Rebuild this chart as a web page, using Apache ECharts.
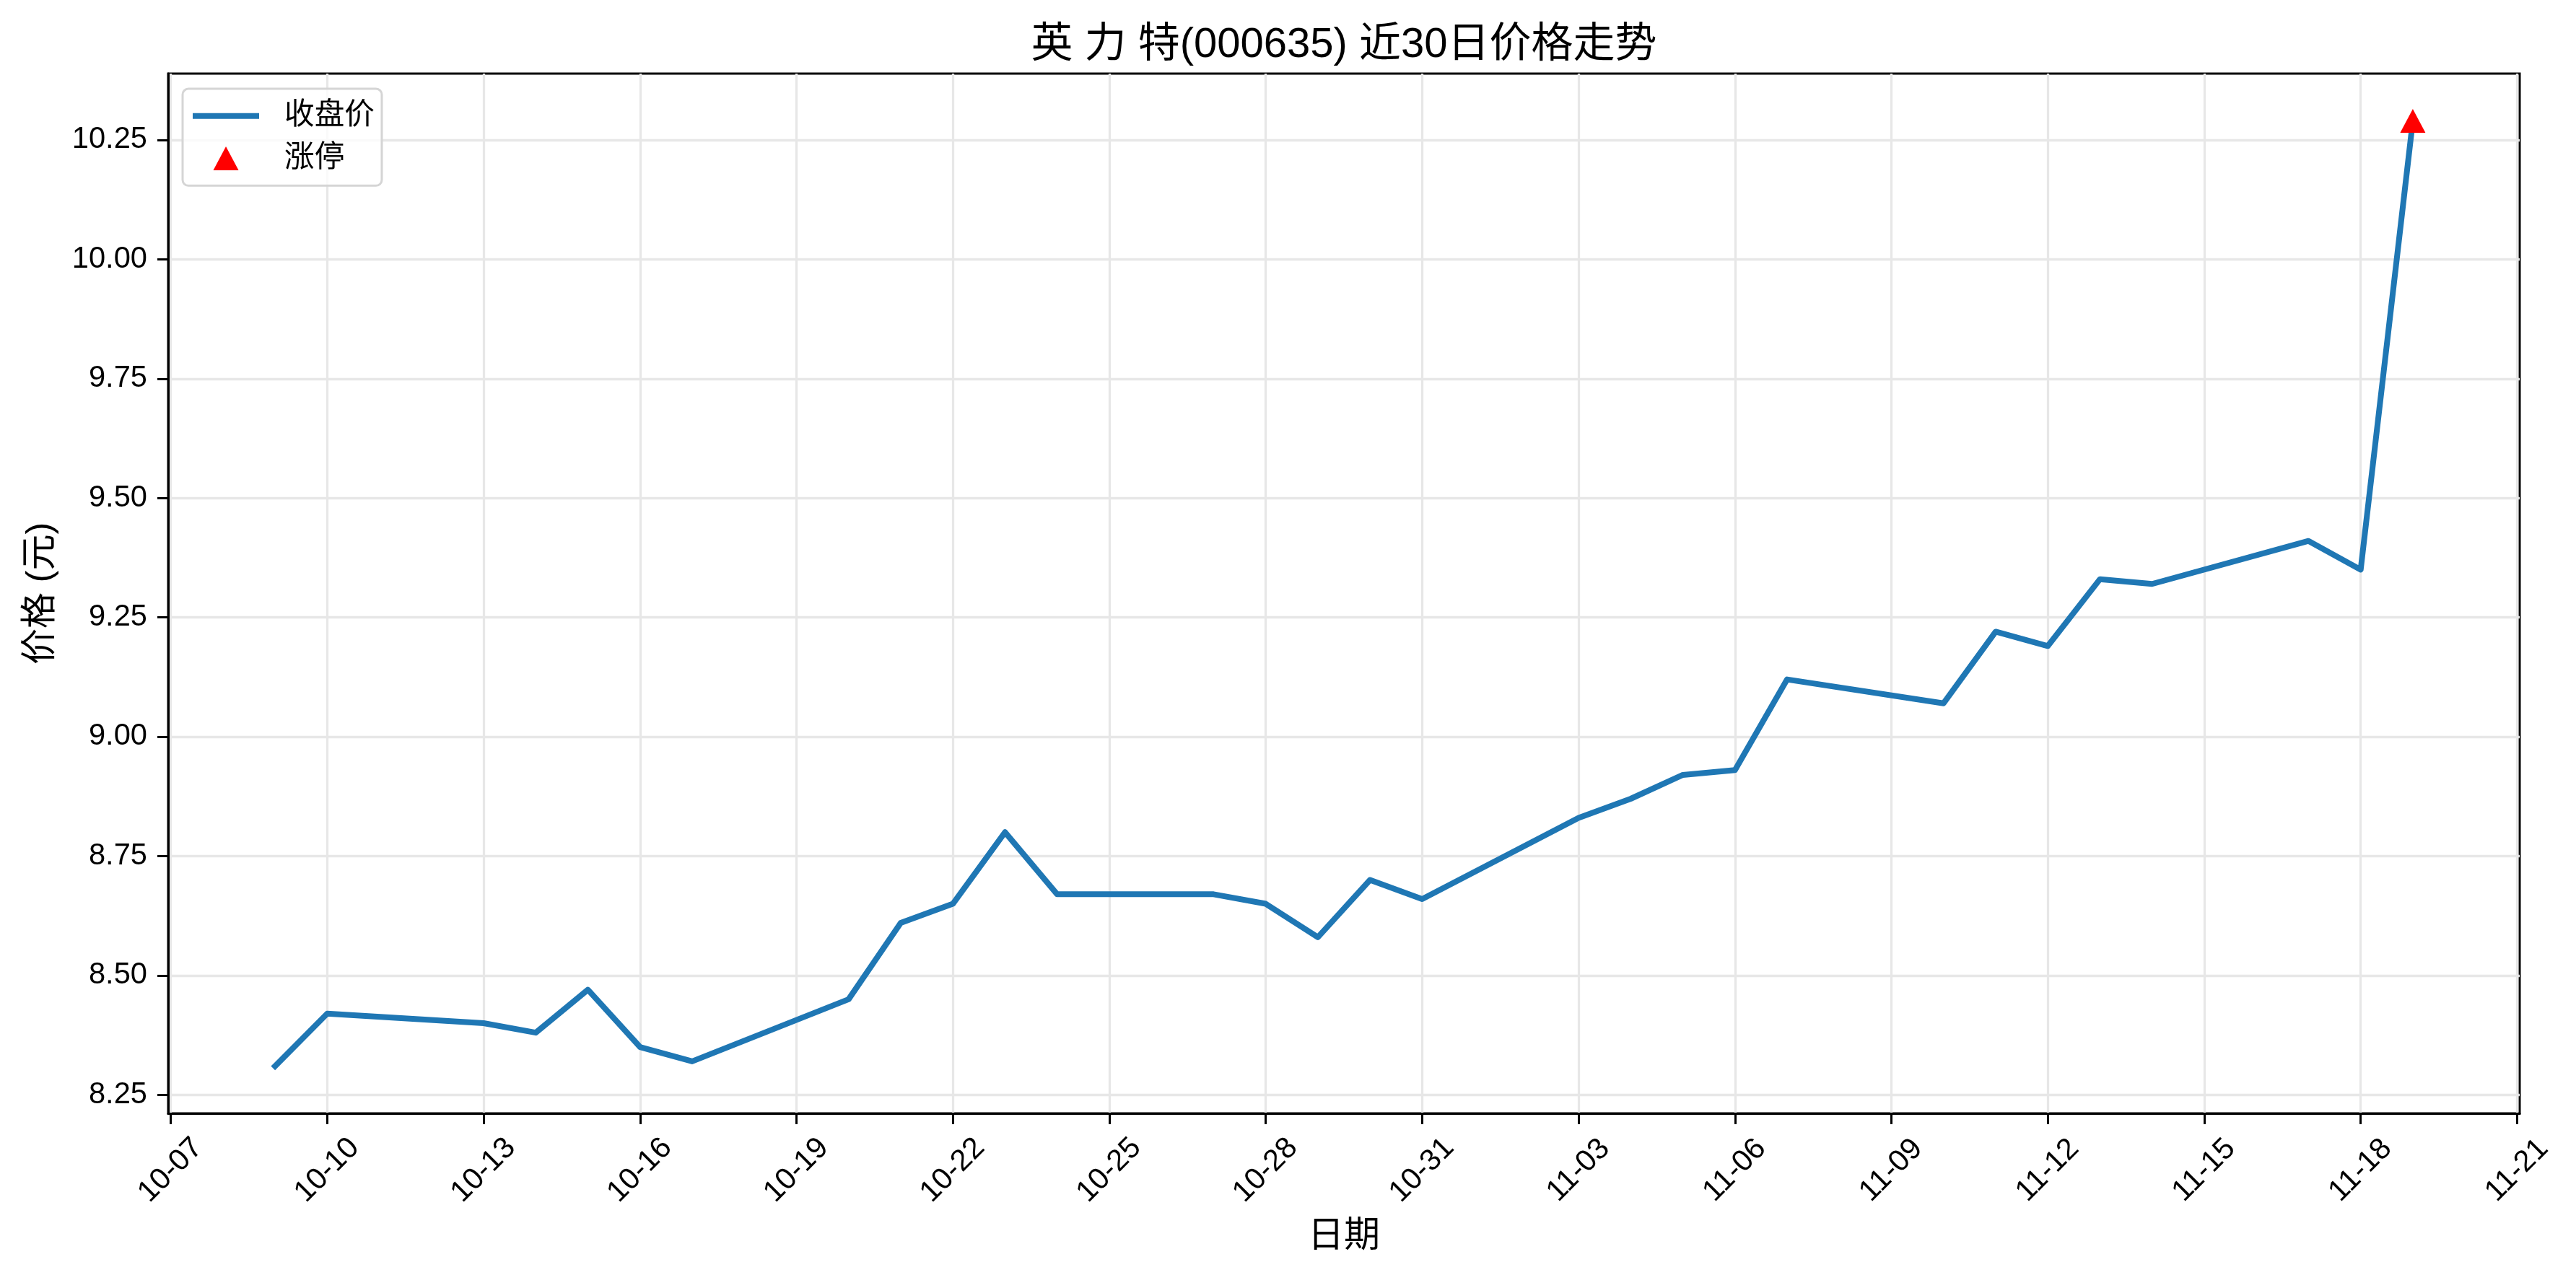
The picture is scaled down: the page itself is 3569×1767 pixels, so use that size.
<!DOCTYPE html>
<html>
<head>
<meta charset="utf-8">
<script src="https://cdn.jsdelivr.net/npm/echarts@6/dist/echarts.min.js"></script>
<style>
html,body{margin:0;padding:0;background:#ffffff;}
#chart{width:3569px;height:1767px;}
</style>
</head>
<body>
<div id="chart"></div>
<script>
// ---------- data ----------
const YEAR = 2025;
const titleText = '英 力 特(000635) 近30日价格走势';
const dates = ['10-09','10-10','10-13','10-14','10-15','10-16','10-17',
  '10-20','10-21','10-22','10-23','10-24',
  '10-27','10-28','10-29','10-30','10-31',
  '11-03','11-04','11-05','11-06','11-07',
  '11-10','11-11','11-12','11-13','11-14',
  '11-17','11-18','11-19'];
const closePrices = [8.31, 8.42, 8.40, 8.38, 8.47, 8.35, 8.32,
  8.45, 8.61, 8.65, 8.80, 8.67,
  8.67, 8.65, 8.58, 8.70, 8.66,
  8.83, 8.87, 8.92, 8.93, 9.12,
  9.07, 9.22, 9.19, 9.33, 9.32,
  9.41, 9.35, 10.29];
const limitUpDates = ['11-19'];
const limitUpPrices = [10.29];
const xTickLabels = ['10-07','10-10','10-13','10-16','10-19','10-22','10-25','10-28',
  '10-31','11-03','11-06','11-09','11-12','11-15','11-18','11-21'];
const yTickLabels = ['8.25','8.50','8.75','9.00','9.25','9.50','9.75','10.00','10.25'];

// ---------- helpers ----------
const BASE = Date.UTC(YEAR, 9, 7);
function dayNum(md) {
  const p = md.split('-').map(Number);
  return (Date.UTC(YEAR, p[0] - 1, p[1]) - BASE) / 86400000;
}
const xTickVals = xTickLabels.map(dayNum);
const yTickVals = yTickLabels.map(Number);

const lineData = dates.map((d, i) => [dayNum(d), closePrices[i]]);
const limitData = limitUpDates.map((d, i) => [dayNum(d), limitUpPrices[i]]);

// matplotlib-like 5% autoscale margins
const xs = dates.map(dayNum);
const xLo = Math.min.apply(null, xs), xHi = Math.max.apply(null, xs);
const xMin = xLo - 0.05 * (xHi - xLo), xMax = xHi + 0.05 * (xHi - xLo);
const ys = closePrices.concat(limitUpPrices);
const yLo = Math.min.apply(null, ys), yHi = Math.max.apply(null, ys);
const yMin = yLo - 0.05 * (yHi - yLo), yMax = yHi + 0.05 * (yHi - yLo);

const FONT = "'Liberation Sans', 'Noto Sans CJK SC', sans-serif";

const chart = echarts.init(document.getElementById('chart'), null, {renderer: 'canvas'});
chart.setOption({
  animation: false,
  backgroundColor: '#ffffff',
  textStyle: {fontFamily: FONT},
  title: {
    text: titleText,
    left: 1862,
    top: 34,
    textAlign: 'center',
    padding: 0,
    textStyle: {fontSize: 58, fontWeight: 'normal', color: '#000000', fontFamily: FONT}
  },
  legend: {
    orient: 'vertical',
    left: 253,
    top: 123,
    itemWidth: 92,
    itemHeight: 33,
    itemGap: 17,
    symbolKeepAspect: true,
    padding: [17, 10, 17, 14],
    backgroundColor: 'rgba(255,255,255,0.8)',
    borderColor: '#d5d5d5',
    borderWidth: 3,
    borderRadius: 8,
    textStyle: {fontSize: 41.67, color: '#000000', fontFamily: FONT, padding: [0, 0, 0, 30], lineHeight: 33},
    data: [
      {name: '收盘价', icon: 'path://M0,0L92,0L92,8L0,8Z', itemStyle: {color: '#1f77b4', opacity: 1}},
      {name: '涨停', icon: 'path://M17,0L34,32L0,32Z', itemStyle: {color: '#ff0000', opacity: 1}}
    ]
  },
  grid: {
    left: 233, right: 78, top: 102, bottom: 224,
    show: true,
    borderColor: '#000000',
    borderWidth: 3,
    backgroundColor: 'transparent'
  },
  xAxis: {
    type: 'value',
    min: xMin,
    max: xMax,
    name: '日期',
    nameLocation: 'middle',
    nameGap: 146,
    nameTextStyle: {fontSize: 50, color: '#000000', fontFamily: FONT},
    axisLine: {show: true, onZero: false, lineStyle: {color: '#000000', width: 3}},
    axisTick: {show: true, inside: false, length: 15, customValues: xTickVals, lineStyle: {color: '#000000', width: 3}},
    axisLabel: {
      customValues: xTickVals,
      formatter: function (v) {
        let best = 0;
        for (let i = 0; i < xTickVals.length; i++) {
          if (Math.abs(xTickVals[i] - v) < Math.abs(xTickVals[best] - v)) best = i;
        }
        return xTickLabels[best];
      },
      rotate: 45,
      align: 'center',
      verticalAlign: 'middle',
      margin: 79,
      fontSize: 41.67,
      color: '#000000',
      fontFamily: FONT
    },
    splitLine: {show: true, lineStyle: {color: '#e7e7e7', width: 3.3}}
  },
  yAxis: {
    type: 'value',
    min: yMin,
    max: yMax,
    name: '价格 (元)',
    nameLocation: 'middle',
    nameGap: 151,
    nameRotate: 90,
    nameTextStyle: {fontSize: 50, color: '#000000', fontFamily: FONT},
    axisLine: {show: true, onZero: false, lineStyle: {color: '#000000', width: 3}},
    axisTick: {show: true, inside: false, length: 15, customValues: yTickVals, lineStyle: {color: '#000000', width: 3}},
    axisLabel: {
      customValues: yTickVals,
      formatter: function (v) { return Number(v).toFixed(2); },
      margin: 29,
      fontSize: 41.67,
      color: '#000000',
      fontFamily: FONT
    },
    splitLine: {show: true, lineStyle: {color: '#e7e7e7', width: 3.3}}
  },
  series: [
    {
      name: '收盘价',
      type: 'line',
      data: lineData,
      symbol: 'none',
      showSymbol: false,
      itemStyle: {color: '#1f77b4'},
      lineStyle: {color: '#1f77b4', width: 8, join: 'round', cap: 'square'},
      z: 2
    },
    {
      name: '涨停',
      type: 'scatter',
      data: limitData,
      symbol: 'triangle',
      symbolSize: [35, 33],
      itemStyle: {color: '#ff0000', opacity: 1},
      z: 3
    }
  ]
});
</script>
</body>
</html>
